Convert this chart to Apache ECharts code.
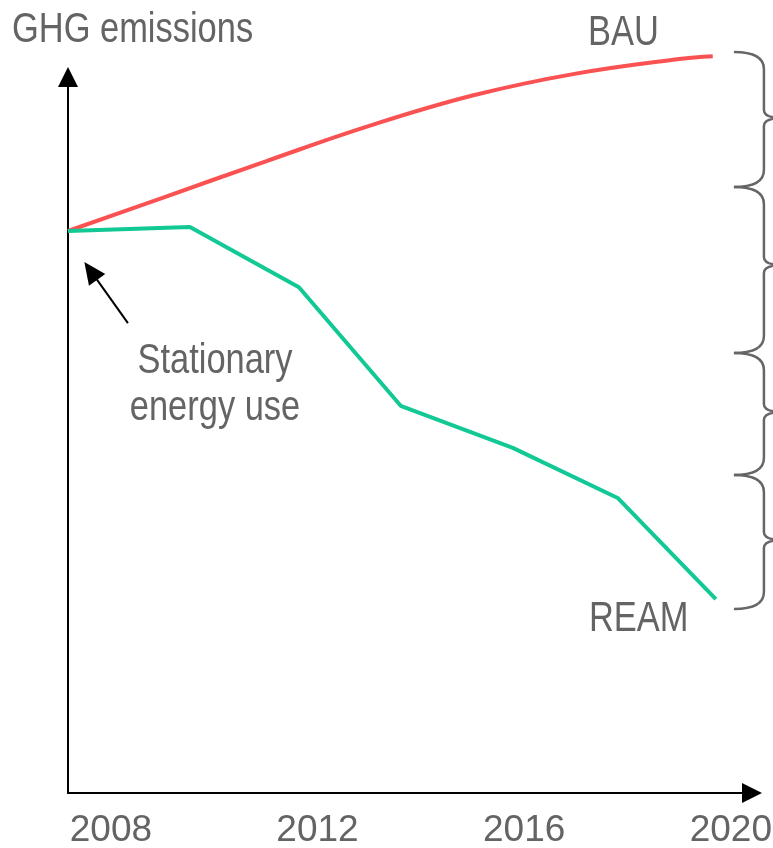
<!DOCTYPE html>
<html>
<head>
<meta charset="utf-8">
<script src="https://cdn.jsdelivr.net/npm/echarts@6/dist/echarts.min.js"></script>
<style>
  html, body { margin: 0; padding: 0; background: #fff; }
  #chart { width: 773px; height: 848px; }
</style>
</head>
<body>
<div id="chart"></div>
<script>
// business as usual path (index, start year = 100)
const bauYears = [2007.17, 2009, 2011, 2013, 2015, 2017, 2019, 2019.65]
const bauValues = [100, 105.9, 112.4, 118.7, 124.1, 128.0, 130.6, 131.1]

// REAM path
const reamYears = [2007.17, 2009.53, 2011.64, 2013.61, 2015.78, 2017.81, 2019.71]
const reamValues = [100, 100.7, 90.0, 68.9, 61.4, 52.5, 34.5]

const yearTicks = [2008, 2012, 2016, 2020]

// braces on the right: top, tip, bottom
const braceX = 2020.06
const braceTops = [131.85, 107.83, 78.29, 56.58]
const braceTips = [120.1, 93.95, 67.79, 45.02]
const braceBottoms = [107.83, 78.29, 56.58, 32.74]

// arrow pointing at the start
const arrowFrom = [2008.33, 83.6]
const arrowTo = [2007.61, 92.9]

const FONT = "'Liberation Sans', Arial, sans-serif"
const GREY = '#646464'

// narrow look: regular sans squeezed horizontally
function label (text, x, y, align) {
  return {
    type: 'text', x: x, y: y, scaleX: 0.82,
    style: { text: text, fontSize: 42, fontFamily: FONT, fill: GREY, textAlign: align, textVerticalAlign: 'middle' }
  }
}

const chart = echarts.init(document.getElementById('chart'))

const option = {
  animation: false,
  grid: { left: 68, right: 21, top: 77, bottom: 55, outerBoundsMode: 'none', containLabel: false },
  xAxis: {
    type: 'value',
    min: 2007.17,
    max: 2020.41,
    splitLine: { show: false },
    axisTick: { show: false },
    axisLine: {
      lineStyle: { color: '#000', width: 2 },
      symbol: ['none', 'triangle'],
      symbolSize: [20, 20]
    },
    axisLabel: {
      customValues: yearTicks,
      formatter: v => String(v),
      margin: 19,
      color: GREY,
      fontSize: 37,
      fontFamily: FONT,
      hideOverlap: false
    }
  },
  yAxis: {
    type: 'value',
    min: 0,
    max: 127.4,
    splitLine: { show: false },
    axisTick: { show: false },
    axisLabel: { show: false },
    axisLine: {
      show: true,
      lineStyle: { color: '#000', width: 2 },
      symbol: ['none', 'triangle'],
      symbolSize: [20, 20]
    }
  },
  series: [
    {
      name: 'BAU',
      type: 'line',
      smooth: 0.4,
      clip: false,
      showSymbol: false,
      lineStyle: { color: '#FA5252', width: 4 },
      data: bauYears.map((y, i) => [y, bauValues[i]])
    },
    {
      name: 'REAM',
      type: 'line',
      clip: false,
      showSymbol: false,
      lineStyle: { color: '#12C995', width: 4 },
      data: reamYears.map((y, i) => [y, reamValues[i]]),
      markLine: {
        silent: true,
        animation: false,
        symbol: ['none', 'triangle'],
        symbolSize: [20, 22],
        label: { show: false },
        lineStyle: { color: '#000', width: 2, type: 'solid' },
        data: [[{ coord: arrowFrom }, { coord: arrowTo }]]
      }
    },
    {
      name: 'braces',
      type: 'custom',
      clip: false,
      silent: true,
      encode: { x: 0, y: [1, 2, 3] },
      data: braceTops.map((t, i) => [braceX, t, braceTips[i], braceBottoms[i]]),
      renderItem: function (params, api) {
        const pT = api.coord([api.value(0), api.value(1)])
        const pM = api.coord([api.value(0), api.value(2)])
        const pB = api.coord([api.value(0), api.value(3)])
        const xL = pT[0]
        const xS = xL + 30
        const xR = xL + 48
        const yT = pT[1], yM = pM[1], yB = pB[1]
        const r1 = 17, r2 = 8
        const d = 'M' + xL + ',' + yT +
          ' Q' + xS + ',' + yT + ' ' + xS + ',' + (yT + r1) +
          ' L' + xS + ',' + (yM - r2) +
          ' Q' + xS + ',' + yM + ' ' + xR + ',' + yM +
          ' M' + xR + ',' + yM +
          ' Q' + xS + ',' + yM + ' ' + xS + ',' + (yM + r2) +
          ' L' + xS + ',' + (yB - r1) +
          ' Q' + xS + ',' + yB + ' ' + xL + ',' + yB
        return {
          type: 'path',
          shape: { pathData: d },
          style: { fill: 'none', stroke: '#666', lineWidth: 2.5 }
        }
      }
    }
  ],
  graphic: [
    label('GHG emissions', 12, 30, 'left'),
    label('BAU', 588, 33, 'left'),
    label('REAM', 589, 619, 'left'),
    label('Stationary', 215, 361, 'center'),
    label('energy use', 215, 408, 'center')
  ]
}

chart.setOption(option)
</script>
</body>
</html>
